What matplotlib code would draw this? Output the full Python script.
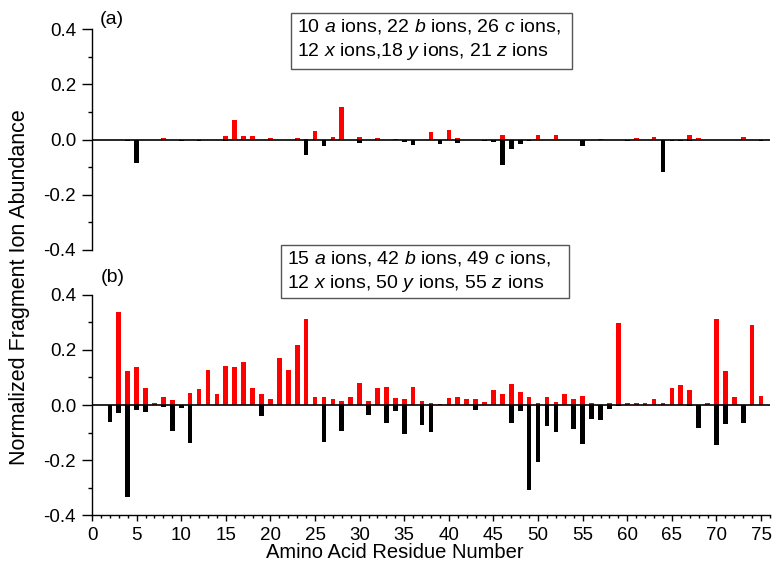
import matplotlib
matplotlib.use("Agg")
import matplotlib.pyplot as plt
from matplotlib.patches import Rectangle
from matplotlib.ticker import MultipleLocator
import numpy as np

plt.rcParams['font.family'] = ['Liberation Sans', 'DejaVu Sans']
plt.rcParams['mathtext.fontset'] = 'custom'
plt.rcParams['mathtext.rm'] = 'Liberation Sans'
plt.rcParams['mathtext.it'] = 'Liberation Sans:italic'

residues = list(range(1, 76))

# Panel (a): N-terminal (a/b/c, red, positive) and C-terminal (x/y/z, black, negative)
a_nterm = [0, 0, 0, 0, 0, 0, 0, 0.005, 0, 0,
           0, 0, 0, 0, 0.013, 0.071, 0.011, 0.012, 0, 0.004,
           0, 0, 0.007, 0.002, 0.032, 0, 0.009, 0.117, 0, 0.009,
           0, 0.006, 0, 0.003, 0, 0, 0, 0.027, 0, 0.033,
           0.005, 0, 0, 0, 0, 0.018, 0, 0, 0, 0.017,
           0, 0.015, 0, 0, 0, 0, 0.003, 0, 0, 0,
           0.004, 0, 0.008, 0, 0, 0, 0.016, 0.007, 0, 0,
           0, 0, 0.008, 0, 0]
a_cterm = [0, 0, 0, -0.004, -0.085, 0, 0, 0, 0, -0.006,
           0, -0.007, 0, 0, -0.004, 0, 0, 0, 0, 0,
           0, 0, 0, -0.056, 0, -0.025, -0.003, 0, 0, -0.013,
           0, 0, 0, -0.003, -0.008, -0.020, 0, 0, -0.018, 0,
           -0.013, 0, 0, -0.005, -0.008, -0.094, -0.034, -0.016, -0.005, 0,
           0, 0, 0, 0, -0.023, 0, 0, 0, 0, -0.005,
           0, 0, 0, -0.118, -0.006, -0.006, -0.004, 0, 0, 0,
           0, 0, 0, 0, -0.004]

# Panel (b)
b_nterm = [0, 0, 0.338, 0.124, 0.139, 0.063, 0.008, 0.028, 0.017, 0,
           0.042, 0.059, 0.127, 0.039, 0.142, 0.138, 0.155, 0.060, 0.041, 0.023,
           0.171, 0.126, 0.219, 0.313, 0.028, 0.028, 0.023, 0.016, 0.029, 0.078,
           0.016, 0.060, 0.066, 0.027, 0.023, 0.066, 0.013, 0.008, 0.005, 0.027,
           0.029, 0.023, 0.023, 0.012, 0.053, 0.040, 0.077, 0.048, 0.030, 0.009,
           0.030, 0.012, 0.040, 0.022, 0.033, 0.008, 0, 0.008, 0.297, 0.009,
           0.007, 0.009, 0.023, 0.007, 0.063, 0.071, 0.055, 0, 0.008, 0.313,
           0.124, 0.029, 0, 0.291, 0.032]
b_cterm = [0, -0.060, -0.030, -0.332, -0.018, -0.025, 0, -0.008, -0.094, -0.012,
           -0.139, 0, 0, 0, 0, 0, 0, 0, -0.040, 0,
           0, 0, 0, 0, 0, -0.134, 0, -0.093, 0, 0,
           -0.036, 0, -0.065, -0.021, -0.106, 0, -0.073, -0.098, 0, 0,
           0, 0, -0.019, 0, 0, 0, -0.064, -0.021, -0.307, -0.207,
           -0.075, -0.097, 0, -0.086, -0.142, -0.051, -0.055, -0.014, -0.003, 0,
           0, 0, 0, 0, 0, 0, -0.003, -0.085, 0, -0.145,
           -0.070, 0, -0.066, 0, 0]

panel_labels = ["(a)", "(b)"]
box_lines = [
    ["10 $a$ ions, 22 $b$ ions, 26 $c$ ions,", "12 $x$ ions,18 $y$ ions, 21 $z$ ions"],
    ["15 $a$ ions, 42 $b$ ions, 49 $c$ ions,", "12 $x$ ions, 50 $y$ ions, 55 $z$ ions"],
]
x_ticks = list(range(0, 80, 5))
y_ticks = [-0.4, -0.2, 0.0, 0.2, 0.4]

W, H = 779, 571
fig = plt.figure(figsize=(W / 100, H / 100), dpi=100)

def fx(px):
    return px / W

def fy(py):
    return 1 - py / H

ax_a = fig.add_axes([fx(92), fy(250), fx(770) - fx(92), fy(29) - fy(250)])
ax_b = fig.add_axes([fx(92), fy(515.3), fx(770) - fx(92), fy(294.7) - fy(515.3)])

fs_tick = 13.5
fs_box = 14
for ax, nt, ct in [(ax_a, a_nterm, a_cterm), (ax_b, b_nterm, b_cterm)]:
    ax.bar(residues, nt, width=0.52, color='#ff0000', zorder=2)
    ax.bar(residues, ct, width=0.52, color='black', zorder=2)
    ax.axhline(0, color='black', lw=1.2, zorder=3)
    ax.set_xlim(0, 76)
    ax.set_ylim(-0.4, 0.4)
    ax.set_yticks(y_ticks)
    ax.set_yticklabels([f"{v:.1f}" for v in y_ticks])
    ax.yaxis.set_minor_locator(MultipleLocator(0.1))
    ax.spines['top'].set_visible(False)
    ax.spines['right'].set_visible(False)
    ax.spines['left'].set_linewidth(1.0)
    ax.tick_params(axis='y', which='major', direction='out', length=7, width=1,
                   labelsize=fs_tick, pad=4.5)
    ax.tick_params(axis='y', which='minor', direction='out', length=3, width=1)
    ax.patch.set_alpha(0)

ax_a.spines['bottom'].set_visible(False)
ax_a.set_xticks([])
ax_a.tick_params(axis='x', which='both', bottom=False, labelbottom=False)

ax_b.spines['bottom'].set_linewidth(1.0)
ax_b.set_xticks(x_ticks)
ax_b.xaxis.set_minor_locator(MultipleLocator(1))
ax_b.tick_params(axis='x', which='major', direction='out', length=4, width=1,
                 labelsize=fs_tick, pad=4.5)
ax_b.tick_params(axis='x', which='minor', direction='out', length=2.5, width=1)

fig.text(fx(395), fy(553), "Amino Acid Residue Number", ha='center', va='center',
         fontsize=14.5)
fig.text(fx(20), fy(287), "Normalized Fragment Ion Abundance", rotation=90,
         ha='center', va='center', fontsize=15.5)

# panel labels
fig.text(fx(100), fy(20), panel_labels[0], ha='left', va='center', fontsize=fs_box)
fig.text(fx(101), fy(277), panel_labels[1], ha='left', va='center', fontsize=fs_box)

# text boxes
boxes = [(291, 13, 572, 69, 27, 52, 297), (281, 245, 569, 298, 258, 283, 287)]
for (x0, y0, x1, y1, l1, l2, tx), lines in zip(boxes, box_lines):
    fig.patches.append(Rectangle((fx(x0), fy(y1)), fx(x1) - fx(x0), fy(y0) - fy(y1),
                                 transform=fig.transFigure, facecolor='white',
                                 edgecolor='#555555', lw=1.0, zorder=5))
    fig.text(fx(tx), fy(l1), lines[0], ha='left', va='center', fontsize=fs_box, zorder=6)
    fig.text(fx(tx), fy(l2), lines[1], ha='left', va='center', fontsize=fs_box, zorder=6)

fig.savefig("out.png", dpi=100)
